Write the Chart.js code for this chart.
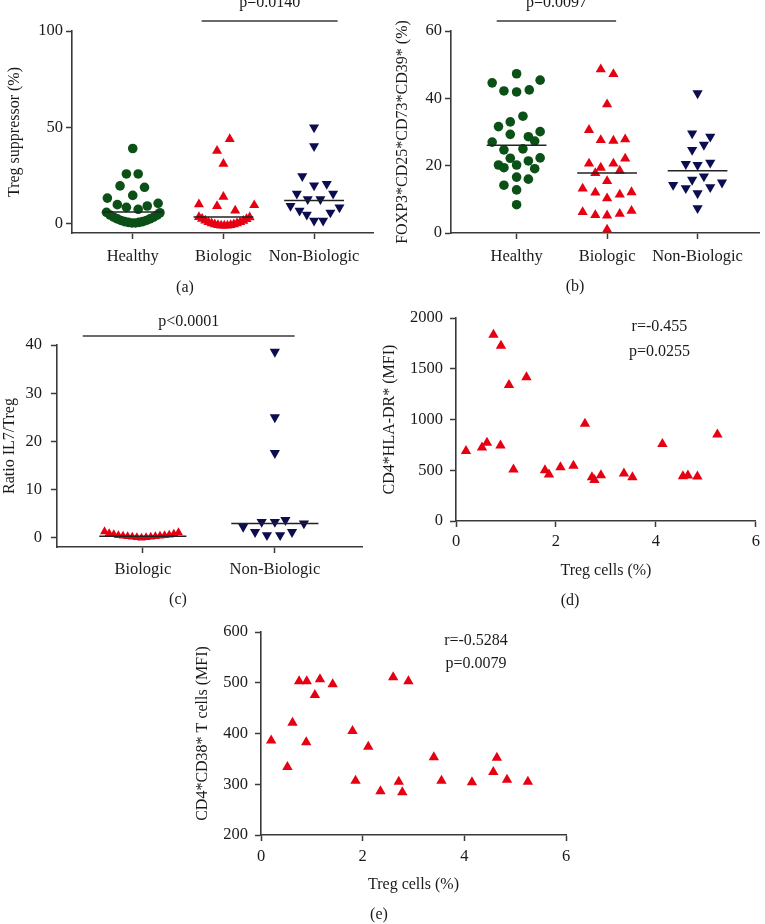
<!DOCTYPE html>
<html lang="en">
<head>
<meta charset="UTF-8">
<title>Treg panels</title>
<script src="https://cdn.jsdelivr.net/npm/chart.js"></script>
<style>
  body { margin: 0; background: #fff; }
  #fig { position: relative; width: 765px; height: 924px; overflow: hidden; }
  canvas { position: absolute; }
</style>
</head>
<body>
<div id="fig">
  <canvas id="chartA"></canvas>
  <canvas id="chartB"></canvas>
  <canvas id="chartC"></canvas>
  <canvas id="chartD"></canvas>
  <canvas id="chartE"></canvas>
</div>
<script>
// ---------- data ----------
const groups3 = ['Healthy', 'Biologic', 'Non-Biologic'];
const groups2 = ['Biologic', 'Non-Biologic'];

// (a) Treg suppressor (%) ; dx = horizontal spread inside a group
const aHealthyY  = [39.1, 25.9, 25.9, 19.7, 19.0, 14.8, 13.4, 10.0, 8.6, 7.6, 9.3, 10.7,
                    6.0, 4.6, 3.5, 2.6, 1.8, 1.2, 0.8, 0.5, 0.5, 0.8, 1.2, 1.8, 2.6, 3.5, 4.6, 5.8];
const aHealthyDx = [0, -0.07, 0.06, -0.14, 0.13, 0, -0.28, -0.17, -0.07, 0.06, 0.16, 0.28,
                    -0.29, -0.25, -0.21, -0.17, -0.13, -0.09, -0.05, -0.01, 0.03, 0.07, 0.11, 0.15, 0.19, 0.23, 0.27, 0.30];
const aBioY  = [44.0, 37.9, 31.2, 14.1, 10.2, 9.3, 9.7, 6.9,
                3.6, 2.6, 1.7, 0.9, 0.3, -0.2, -0.6, -0.8, -0.9, -0.8, -0.6, -0.2, 0.3, 0.9, 1.6, 2.5, 3.4];
const aBioDx = [0.07, -0.07, 0, 0, -0.27, -0.07, 0.34, 0.13,
                -0.27, -0.235, -0.2, -0.165, -0.13, -0.095, -0.06, -0.025, 0.01, 0.045, 0.08, 0.115, 0.15, 0.185, 0.22, 0.255, 0.29];
const aNonY  = [50.0, 40.3, 24.8, 20.0, 20.7, 15.7, 15.7, 12.8, 12.8, 9.3, 6.9, 8.6, 5.9, 4.8, 1.7, 1.7];
const aNonDx = [0, 0, -0.13, 0, 0.14, -0.19, 0.21, -0.07, 0.07, -0.26, -0.16, 0.28, 0.18, -0.08, 0, 0.10];
const aMedians = [6.2, 3.6, 12.1];
const aTicks = [0, 50, 100];

// (b) FOXP3+CD25+CD73+CD39+ (%)
const bHealthyY  = [44.6, 47.3, 45.4, 42.2, 41.9, 42.5, 34.7, 31.6, 33.0, 30.1, 29.3, 28.6, 27.3, 27.0,
                    24.7, 25.0, 20.2, 19.4, 22.2, 20.2, 21.4, 22.3, 19.1, 16.6, 16.0, 14.2, 12.8, 8.4];
const bHealthyDx = [-0.27, 0, 0.26, -0.14, 0, 0.14, 0.07, -0.20, -0.07, 0.26, -0.07, 0.13, 0.20, -0.27,
                    -0.14, 0.07, -0.20, -0.14, -0.07, 0, 0.13, 0.26, 0.20, 0, 0.13, -0.14, 0, 0];
const bBioY  = [48.6, 47.2, 38.2, 30.6, 27.6, 27.4, 27.8, 20.6, 19.4, 20.6, 22.1, 17.8, 18.5,
                15.4, 13.2, 12.0, 10.3, 11.4, 12.1, 6.2, 5.3, 5.2, 5.7, 6.6, 1.0];
const bBioDx = [-0.07, 0.07, 0, -0.20, -0.07, 0.07, 0.20, -0.20, -0.07, 0.07, 0.20, -0.13, 0.14,
                0, -0.27, -0.13, 0, 0.14, 0.27, -0.27, -0.13, 0, 0.14, 0.27, 0];
const bNonY  = [41.5, 29.6, 28.6, 24.7, 26.2, 20.5, 20.2, 20.9, 14.3, 13.3, 11.8, 13.6, 15.0, 15.8, 16.8, 7.4];
const bNonDx = [0, -0.06, 0.14, -0.06, 0.07, -0.13, 0, 0.14, -0.27, -0.13, 0, 0.14, 0.27, -0.06, 0.07, 0];
const bMedians = [26.1, 17.8, 18.5];
const bTicks = [0, 20, 40, 60];

// (c) Ratio IL7/Treg
const cBioY  = [1.3, 0.9, 0.7, 0.5, 0.4, 0.3, 0.2, 0.1, 0.0, 0.1, 0.2, 0.3, 0.4, 0.5, 0.6, 0.8, 1.1];
const cBioDx = [-0.29, -0.255, -0.22, -0.185, -0.15, -0.115, -0.08, -0.045, -0.01, 0.025, 0.06, 0.095, 0.13, 0.165, 0.2, 0.235, 0.27];
const cNonY  = [38.6, 25.0, 17.6, 2.3, 3.3, 3.3, 3.7, 3.0, 1.2, 1.2, 0.55, 0.55];
const cNonDx = [0, 0, 0, -0.24, -0.10, 0, 0.08, 0.22, -0.15, 0.13, -0.06, 0.04];
const cMedians = [0.35, 3.0];
const cTicks = [0, 10, 20, 30, 40];

// (d) Treg cells (%) vs CD4+HLA-DR+ (MFI)
const dTreg = [0.20, 0.52, 0.62, 0.75, 0.90, 0.89, 1.06, 1.15, 1.41, 1.78, 1.86, 2.09,
               2.35, 2.58, 2.72, 2.77, 2.90, 3.36, 3.53, 4.13, 4.54, 4.64, 4.83, 5.23];
const dHLA  = [690, 725, 771, 1835, 1727, 745, 1341, 507, 1417, 501, 458, 530,
               544, 959, 432, 405, 451, 468, 432, 758, 441, 448, 438, 853];
const dTicksY = [0, 500, 1000, 1500, 2000];

// (e) Treg cells (%) vs CD4+CD38+ T cells (MFI)
const eTreg = [0.20, 0.52, 0.62, 0.75, 0.90, 0.89, 1.06, 1.16, 1.41, 1.80, 1.86, 2.11,
               2.35, 2.60, 2.71, 2.78, 2.90, 3.40, 3.55, 4.15, 4.57, 4.64, 4.84, 5.25];
const eCD38 = [386, 334, 421, 503, 503, 383, 476, 507, 497, 405, 307, 374,
               286, 511, 305, 284, 503, 353, 307, 304, 324, 352, 309, 305];
const eTicksY = [200, 300, 400, 500, 600];
const tregTicks = [0, 2, 4, 6];

// ---------- styling ----------
const SERIF = '"Liberation Serif", "Times New Roman", serif';
const AXIS = '#3a3a3a';
const TEXT = '#1a1a1a';
const GREEN = '#0b5016', RED = '#e60012', NAVY = '#0c0c50';
const TICK_SIZE = 16.5, TITLE_SIZE = 16;

// p-value bars, r/p notes and the (a)...(e) captions
const decor = {
  id: 'decor',
  afterDraw(chart, args, o) {
    const ctx = chart.ctx, xs = chart.scales.x, ys = chart.scales.y, area = chart.chartArea;
    ctx.save();
    ctx.font = TITLE_SIZE + 'px ' + SERIF;
    ctx.fillStyle = TEXT;
    ctx.textAlign = 'center';
    if (o.bar) {
      const x1 = xs.getPixelForValue(o.bar.from), x2 = xs.getPixelForValue(o.bar.to);
      const y = area.top - o.bar.gap;
      ctx.strokeStyle = AXIS;
      ctx.lineWidth = 1.5;
      ctx.beginPath(); ctx.moveTo(x1, y); ctx.lineTo(x2, y); ctx.stroke();
      ctx.textBaseline = 'alphabetic';
      ctx.fillText(o.bar.text, (x1 + x2) / 2, y - o.bar.textGap);
    }
    ctx.textBaseline = 'middle';
    (o.notes || []).forEach(n => ctx.fillText(n.text, xs.getPixelForValue(n.x), ys.getPixelForValue(n.y)));
    if (o.caption) ctx.fillText(o.caption.text, o.caption.x, o.caption.y);
    ctx.restore();
  }
};

function axis(o) {
  return {
    type: 'linear', position: o.pos, min: o.min, max: o.max,
    border: { display: true, color: AXIS, width: 1.6 },
    grid: { display: true, drawOnChartArea: false, drawTicks: true, tickLength: 6, tickWidth: 1.5, tickColor: AXIS, color: AXIS },
    ticks: { padding: o.tickPad, color: TEXT, maxRotation: 0, autoSkip: false,
             font: { family: SERIF, size: TICK_SIZE }, callback: o.label || (v => v) },
    afterBuildTicks: s => { s.ticks = o.ticks.map(v => ({ value: v })); },
    afterFit: s => { if (o.pos === 'left') s.width = o.size; else s.height = o.size; },
    title: o.title
      ? { display: true, text: o.title, color: TEXT, font: { family: SERIF, size: TITLE_SIZE },
          padding: o.pos === 'left' ? { top: o.titlePad, bottom: 0 } : { top: 0, bottom: o.titlePad } }
      : { display: false }
  };
}

function swarm(ys, dxs, slot, color, style, r, rot) {
  return {
    data: ys.map((v, i) => ({ x: slot + dxs[i], y: v })),
    pointStyle: style, pointRadius: r, pointRotation: rot || 0,
    backgroundColor: color, borderColor: color, borderWidth: 0, showLine: false
  };
}

function medianLine(m, slot) {
  return { data: [{ x: slot - 0.33, y: m }, { x: slot + 0.33, y: m }],
           showLine: true, borderColor: '#222', borderWidth: 1.5, pointRadius: 0 };
}

function points(xv, yv, color, r) {
  return { data: xv.map((v, i) => ({ x: v, y: yv[i] })), pointStyle: 'triangle', pointRadius: r,
           backgroundColor: color, borderColor: color, borderWidth: 0, showLine: false };
}

function panel(id, box, padTop, padRight, datasets, xAxis, yAxis, decorOpts) {
  const cv = document.getElementById(id);
  cv.width = box.w; cv.height = box.h;
  cv.style.left = box.x + 'px'; cv.style.top = box.y + 'px';
  cv.style.width = box.w + 'px'; cv.style.height = box.h + 'px';
  return new Chart(cv, {
    type: 'scatter',
    data: { datasets: datasets },
    options: {
      responsive: false, animation: false, devicePixelRatio: 1,
      layout: { padding: { left: 0, top: padTop, right: padRight, bottom: 0 } },
      plugins: { legend: { display: false }, tooltip: { enabled: false }, decor: decorOpts },
      scales: { x: xAxis, y: yAxis }
    },
    plugins: [decor]
  });
}

// (a)
panel('chartA', { x: 0, y: 0, w: 380, h: 300 }, 31, 7,
  [medianLine(aMedians[0], 1), medianLine(aMedians[1], 2), medianLine(aMedians[2], 3),
   swarm(aHealthyY, aHealthyDx, 1, GREEN, 'circle', 4.8),
   swarm(aBioY, aBioDx, 2, RED, 'triangle', 5.8),
   swarm(aNonY, aNonDx, 3, NAVY, 'triangle', 5.8, 180)],
  axis({ pos: 'bottom', min: 0.33, max: 3.65, ticks: [1, 2, 3], size: 67, tickPad: 8, label: v => groups3[v - 1] }),
  axis({ pos: 'left', min: -4.7, max: 100, ticks: aTicks, size: 72, tickPad: 3, title: 'Treg suppressor (%)', titlePad: 5 }),
  { bar: { from: 1.76, to: 3.26, gap: 10, text: 'p=0.0140', textGap: 14 }, caption: { text: '(a)', x: 185, y: 288 } });

// (b)
panel('chartB', { x: 380, y: 0, w: 385, h: 300 }, 31, 5,
  [medianLine(bMedians[0], 1), medianLine(bMedians[1], 2), medianLine(bMedians[2], 3),
   swarm(bHealthyY, bHealthyDx, 1, GREEN, 'circle', 4.8),
   swarm(bBioY, bBioDx, 2, RED, 'triangle', 5.9),
   swarm(bNonY, bNonDx, 3, NAVY, 'triangle', 5.9, 180)],
  axis({ pos: 'bottom', min: 0.275, max: 3.68, ticks: [1, 2, 3], size: 67, tickPad: 8, label: v => groups3[v - 1] }),
  axis({ pos: 'left', min: 0, max: 60, ticks: bTicks, size: 71, tickPad: 3, title: 'FOXP3*CD25*CD73*CD39* (%)', titlePad: 13 }),
  { bar: { from: 0.78, to: 2.10, gap: 10, text: 'p=0.0097', textGap: 14 }, caption: { text: '(b)', x: 195, y: 287 } });

// (c)
panel('chartC', { x: 0, y: 300, w: 380, h: 310 }, 45, 18,
  [medianLine(cMedians[0], 1), medianLine(cMedians[1], 2),
   swarm(cBioY, cBioDx, 1, RED, 'triangle', 5.2),
   swarm(cNonY, cNonDx, 2, NAVY, 'triangle', 5.9, 180)],
  axis({ pos: 'bottom', min: 0.35, max: 2.66, ticks: [1, 2], size: 63, tickPad: 7, label: v => groups2[v - 1] }),
  axis({ pos: 'left', min: -1.9, max: 40, ticks: cTicks, size: 57, tickPad: 9, title: 'Ratio IL7/Treg', titlePad: 0 }),
  { bar: { from: 0.545, to: 2.15, gap: 9, text: 'p<0.0001', textGap: 10 }, caption: { text: '(c)', x: 178, y: 300 } });

// (d)
panel('chartD', { x: 380, y: 300, w: 385, h: 310 }, 18, 4,
  [points(dTreg, dHLA, RED, 6)],
  axis({ pos: 'bottom', min: 0, max: 6, ticks: tregTicks, size: 89, tickPad: 5, title: 'Treg cells (%)', titlePad: 30 }),
  axis({ pos: 'left', min: 0, max: 2000, ticks: dTicksY, size: 76, tickPad: 7, title: 'CD4*HLA-DR* (MFI)', titlePad: 0 }),
  { notes: [{ text: 'r=-0.455', x: 4.07, y: 1911 }, { text: 'p=0.0255', x: 4.07, y: 1665 }],
    caption: { text: '(d)', x: 190, y: 301 } });

// (e)
panel('chartE', { x: 180, y: 610, w: 420, h: 314 }, 22, 34,
  [points(eTreg, eCD38, RED, 6)],
  axis({ pos: 'bottom', min: 0, max: 6, ticks: tregTicks, size: 89, tickPad: 6, title: 'Treg cells (%)', titlePad: 30 }),
  axis({ pos: 'left', min: 200, max: 600, ticks: eTicksY, size: 81, tickPad: 7, title: 'CD4*CD38* T cells (MFI)', titlePad: 13 }),
  { notes: [{ text: 'r=-0.5284', x: 4.23, y: 583 }, { text: 'p=0.0079', x: 4.23, y: 537 }],
    caption: { text: '(e)', x: 199, y: 305 } });
</script>
</body>
</html>
